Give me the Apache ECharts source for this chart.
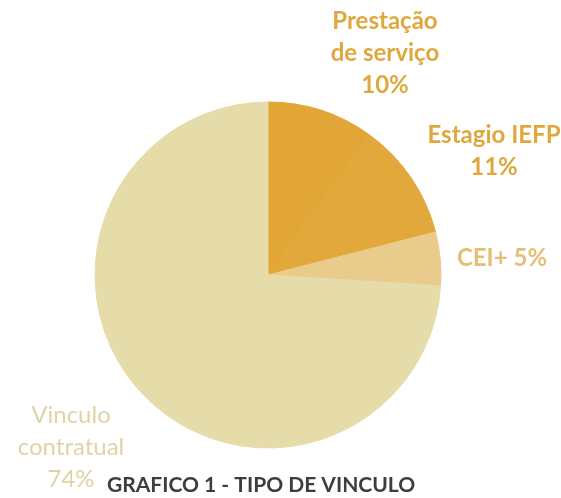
<!DOCTYPE html>
<html>
<head>
<meta charset="utf-8">
<script src="https://cdn.jsdelivr.net/npm/echarts@6/dist/echarts.min.js"></script>
<style>
  html, body { margin: 0; padding: 0; background: #fff; }
  #chart { width: 561px; height: 498px; }
</style>
</head>
<body>
<div id="chart"></div>
<script>
// data
const categories = ['Prestação de serviço', 'Estagio IEFP', 'CEI+', 'Vinculo contratual']
const values = [10, 11, 5, 74]
const labelTexts = ['Prestação\nde serviço\n10%', 'Estagio IEFP\n11%', 'CEI+ 5%', 'Vinculo\ncontratual\n74%']

const sliceColors = ['#E2A637', '#E3A83B', '#E9CC8C', '#E6DCAA']
const labelColors = ['#DFA83E', '#DFA83E', '#E4BF74', '#DDD5A5']
// label anchor points (centre of each text block)
const labelPos = [[385, 53], [494, 151], [502, 258], [71, 447]]

const chart = echarts.init(document.getElementById('chart'))

chart.setOption({
    animation: false,
    title: {
        text: 'GRAFICO 1 - TIPO DE VINCULO',
        left: 102,
        top: 470,
        textStyle: {
            fontFamily: 'Lato',
            fontWeight: 'bold',
            fontSize: 21,
            color: '#3d3d3d'
        }
    },
    series: [{
        type: 'pie',
        center: [268, 275],
        radius: 173,
        startAngle: 90,
        clockwise: true,
        data: categories.map((name, i) => ({
            name: name,
            value: values[i],
            // border in the fill colour hides the seams between slices
            itemStyle: { color: sliceColors[i], borderColor: sliceColors[i], borderWidth: 1 },
            label: { color: labelColors[i], fontWeight: i === 3 ? 'normal' : 'bold' }
        })),
        label: {
            show: true,
            position: 'outside',
            formatter: p => labelTexts[p.dataIndex],
            fontFamily: 'Lato',
            fontSize: 24,
            lineHeight: 32,
            align: 'center',
            overflow: 'none'
        },
        labelLine: { show: false },
        labelLayout: p => ({
            x: labelPos[p.dataIndex][0],
            y: labelPos[p.dataIndex][1],
            align: 'center',
            verticalAlign: 'middle'
        })
    }]
})
</script>
</body>
</html>
